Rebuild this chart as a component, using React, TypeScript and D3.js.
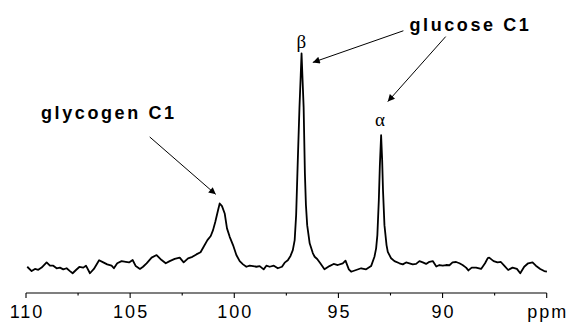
import * as d3 from 'd3'

// spectrum: chemical shift (ppm) and intensity (beta peak = 100)
const shifts = [
  109.94, 109.73, 109.57, 109.41, 109.25, 109.01, 108.85, 108.69, 108.53, 108.37,
  108.21, 108.05, 107.89, 107.76, 107.6, 107.44, 107.25, 107.12, 106.93, 106.74,
  106.49, 106.29, 106.1, 105.89, 105.78, 105.62, 105.41, 105.21, 105.05, 104.88,
  104.73, 104.53, 104.38, 104.21, 103.97, 103.73, 103.49, 103.29, 103.1, 102.86,
  102.62, 102.43, 102.22, 102.01, 101.82, 101.62, 101.47, 101.29, 101.13, 101.02,
  100.91, 100.78, 100.7, 100.59, 100.46, 100.35, 100.22, 100.06, 99.9, 99.74,
  99.58, 99.42, 99.26, 99.1, 98.94, 98.78, 98.59, 98.46, 98.3, 98.1,
  97.91, 97.71, 97.58, 97.43, 97.3, 97.19, 97.1, 97.03, 96.95, 96.87,
  96.81, 96.77, 96.73, 96.67, 96.61, 96.56, 96.5, 96.38, 96.23, 96.14,
  96.02, 95.87, 95.67, 95.43, 95.23, 95.03, 94.79, 94.66, 94.5, 94.39,
  94.15, 93.91, 93.67, 93.43, 93.27, 93.19, 93.13, 93.06, 93.01, 92.95,
  92.9, 92.86, 92.79, 92.69, 92.63, 92.47, 92.31, 92.07, 91.91, 91.75,
  91.59, 91.43, 91.27, 91.11, 90.95, 90.79, 90.63, 90.47, 90.3, 90.15,
  89.99, 89.83, 89.67, 89.52, 89.35, 89.19, 89.04, 88.87, 88.76, 88.6,
  88.39, 88.15, 87.96, 87.83, 87.76, 87.55, 87.36, 87.2, 87.04, 86.85,
  86.64, 86.43, 86.27, 86.08, 85.89, 85.68, 85.52, 85.31, 85.12, 84.99,
]
const intensity = [
  1.5, -0.5, 0.5, 0.1, 1.1, 3.5, 2.0, 2.0, 0.8, 1.1,
  0.3, 0.8, -0.5, -1.5, 0, 1.4, 1.1, 2.0, -1.5, 0.5,
  4.5, 3.5, 2.6, 2.0, 0.8, 3.1, 4.1, 3.8, 3.5, 4.6,
  1.8, 0.5, 1.5, 3.1, 5.7, 6.9, 4.6, 3.1, 4.1, 5.1,
  5.7, 3.5, 5.4, 6.1, 7.2, 8.2, 10.7, 13.8, 15.7, 18.4,
  22.3, 27.6, 30.7, 29.5, 26.1, 19.2, 15.3, 11.5, 6.9, 4.1,
  2.6, 1.5, 2.0, 1.8, 1.5, 1.8, 0.3, 2.0, 1.5, 2.0,
  0.8, 1.5, 3.4, 4.5, 6.5, 9.2, 13.8, 25.3, 50.7, 75.1,
  89.9, 99.9, 89.9, 75.1, 44.7, 30.0, 20.7, 12.3, 7.8, 6.1,
  5.1, 3.1, 0.3, 1.8, 2.8, 2.3, 3.1, 4.3, 0.3, -0.8,
  0, 0.8, 0.3, 1.8, 6.1, 10.0, 16.1, 32.3, 48.4, 62.2,
  50.7, 36.9, 20.7, 11.5, 8.4, 5.4, 4.1, 3.1, 2.6, 3.5,
  3.1, 2.6, 2.8, 4.1, 3.5, 2.8, 3.8, 4.1, 1.6, 2.3,
  2.0, 2.3, 2.2, 3.5, 3.7, 3.1, 2.3, 1.1, -0.2, 1.1,
  1.1, 0.5, 3.1, 5.5, 5.7, 4.1, 3.5, 3.7, 2.0, 0,
  1.1, 0.5, -1.5, 1.5, 3.1, 3.5, 2.0, 0.5, -0.5, -0.8,
]

const majorTicks = [110, 105, 100, 95, 90]
const tickLabels = ['110', '105', '100', '95', '90']
const minorTicks = [107.5, 102.5, 97.5, 92.5, 87.5]
const unitLabel = 'ppm'

// peak labels (ppm, intensity)
const greekLabels = [
  { text: 'β', ppm: 96.78, y: 102.4 },
  { text: 'α', ppm: 93.0, y: 66.5 },
]
const boldLabels = [
  { text: 'glycogen C1', ppm: 109.28, y: 69.7 },
  { text: 'glucose C1', ppm: 91.59, y: 110.3 },
]
// arrows from label to peak (ppm, intensity)
const arrows = [
  { x1: 104.06, y1: 61.4, x2: 100.89, y2: 34.9 },
  { x1: 91.88, y1: 110.4, x2: 96.23, y2: 95.8 },
  { x1: 89.85, y1: 107.7, x2: 92.63, y2: 77.7 },
]

const W = 568
const H = 323
const axisY = 293

export default function App() {
  const x = d3.scaleLinear().domain([110, 85]).range([26, 546.7])
  const y = d3.scaleLinear().domain([0, 100]).range([270, 53.3])

  const points = shifts.map((s, i) => [s, intensity[i]] as [number, number])
  const line = d3.line<[number, number]>()
    .x(d => x(d[0]))
    .y(d => y(d[1]))

  const font = '"Liberation Sans", Arial, sans-serif'

  return (
    <svg width={W} height={H} style={{ position: 'absolute', left: 0, top: 0, background: '#fff' }}>
      <defs>
        <marker id="head" viewBox="0 0 10 10" refX="10" refY="5" markerWidth="9" markerHeight="7"
          markerUnits="userSpaceOnUse" orient="auto">
          <path d="M0,0 L10,5 L0,10 z" fill="#000" />
        </marker>
      </defs>

      {/* spectrum */}
      <path d={line(points) ?? ''} fill="none" stroke="#000" strokeWidth={1.8} strokeLinejoin="round" />

      {/* x axis */}
      <line x1={x(110)} x2={x(85)} y1={axisY} y2={axisY} stroke="#000" strokeWidth={1.1} />
      {majorTicks.concat([85]).map(t => (
        <line key={'M' + t} x1={x(t)} x2={x(t)} y1={axisY} y2={axisY + 5} stroke="#000" strokeWidth={1.1} />
      ))}
      {minorTicks.map(t => (
        <line key={'m' + t} x1={x(t)} x2={x(t)} y1={axisY} y2={axisY + 2.5} stroke="#000" strokeWidth={1.1} />
      ))}
      {majorTicks.map((t, i) => (
        <text key={'l' + t} x={x(t) + 1} y={318} textAnchor="middle" fontFamily={font} fontSize={18}
          letterSpacing={2} fill="#000">{tickLabels[i]}</text>
      ))}
      <text x={x(85) + 1} y={318} textAnchor="middle" fontFamily={font} fontSize={18} letterSpacing={2}
        fill="#000">{unitLabel}</text>

      {/* annotations */}
      {arrows.map((a, i) => (
        <line key={'a' + i} x1={x(a.x1)} y1={y(a.y1)} x2={x(a.x2)} y2={y(a.y2)} stroke="#000"
          strokeWidth={1} markerEnd="url(#head)" />
      ))}
      {boldLabels.map(l => (
        <text key={l.text} x={x(l.ppm)} y={y(l.y)} fontFamily={font} fontSize={18} fontWeight="bold"
          letterSpacing={2.6} fill="#000">{l.text}</text>
      ))}
      {greekLabels.map(l => (
        <text key={l.text} x={x(l.ppm)} y={y(l.y)} textAnchor="middle"
          fontFamily='"Liberation Serif", "Times New Roman", serif' fontSize={19} fill="#000">{l.text}</text>
      ))}
    </svg>
  )
}
